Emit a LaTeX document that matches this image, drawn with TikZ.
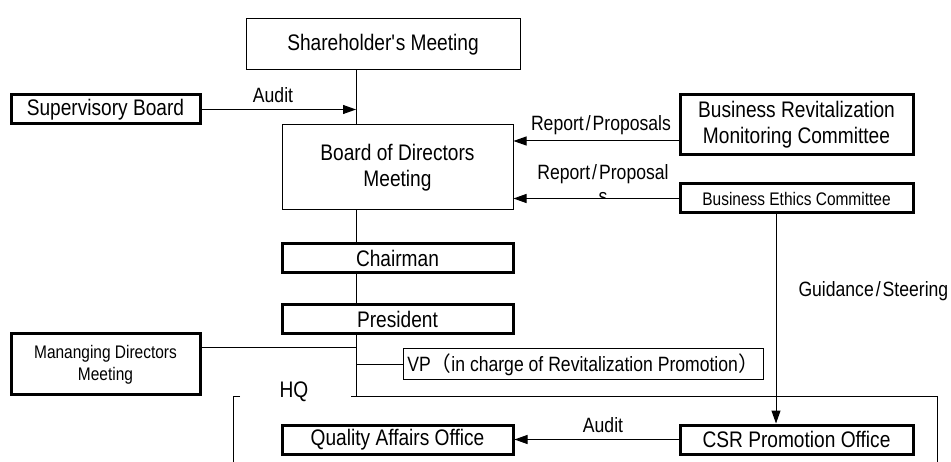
\documentclass[tikz,border=0pt]{standalone}
\usepackage{fontspec}
\setmainfont{Liberation Sans}[FakeStretch=0.85]
\newfontfamily\cjk{Noto Sans CJK JP}
\usetikzlibrary{arrows.meta}

\tikzset{
  thinbox/.style={draw, line width=1pt, inner sep=0pt, align=center,
    font=\fontsize{22.5}{26}\selectfont},
  thickbox/.style={thinbox, line width=3pt},
  smallbox/.style={thickbox, font=\fontsize{18.2}{22}\selectfont},
  lbl/.style={inner sep=0pt, anchor=base, font=\fontsize{20.7}{24}\selectfont},
  arr/.style={-{Triangle[length=13pt,width=9pt]}}
}

\begin{document}
\begin{tikzpicture}[x=1pt,y=-1pt,line width=1pt]
  \useasboundingbox (0,0) rectangle (951,462);
  \coordinate (t) at (356,0);
  \coordinate (g) at (776,0);
  \coordinate (hql) at (233,397);
  \coordinate (hqr) at (937,397);

  \node[thinbox, minimum width=274, minimum height=51] (share) at (383,44.5) {Shareholder\textquotesingle s Meeting};
  \node[thickbox, minimum width=189, minimum height=29] (supboard) at (105.5,109.5) {Supervisory Board};
  \node[thinbox, minimum width=231, minimum height=85] (board) at (397.5,167.5) {Board of Directors\\Meeting};
  \node[thickbox, minimum width=231, minimum height=29] (chairman) at (397.5,258.5) {Chairman};
  \node[thickbox, minimum width=231, minimum height=29] (president) at (397.5,319.5) {President};
  \node[smallbox, minimum width=189, minimum height=61] (mdmeeting) at (105.5,364.5) {Mananging Directors\\Meeting};
  \node[thinbox, minimum width=360, minimum height=31, font=\fontsize{20.7}{24}\selectfont] (vp) at (583,364.5)
    {VP{\cjk （}in charge of Revitalization Promotion{\cjk ）}};
  \node[thickbox, minimum width=231, minimum height=29] (qao) at (397.5,439.5) {Quality Affairs Office};
  \node[thickbox, minimum width=233, minimum height=29] (csr) at (796.5,439.5) {CSR Promotion Office};
  \node[thickbox, minimum width=233, minimum height=60] (brmc) at (796.5,125) {Business Revitalization\\Monitoring Committee};
  \node[smallbox, minimum width=233, minimum height=29] (bec) at (796.5,198.5) {Business Ethics Committee};

  % main line
  \draw (t |- share.south) -- (t |- board.north)
        (t |- board.south) -- (t |- chairman.north)
        (t |- chairman.south) -- (t |- president.north)
        (t |- president.south) -- (t |- hqr);
  \coordinate (mdjoin) at (356,348);
  \draw (mdjoin -| mdmeeting.east) -- (mdjoin);
  \draw (t |- vp.west) -- (vp.west);

  % HQ frame
  \draw ([xshift=7pt]hql) -- (hql) -- (hql |- 0,462);
  \draw (351,397) -- (hqr) -- (hqr |- 0,462);
  \node[lbl, font=\fontsize{22.5}{26}\selectfont] (hq) at (294,398) {HQ};

  \draw[arr] (supboard.east) -- (supboard.east -| t);
  \node[lbl] (audit1) at (273,103) {Audit};
  \coordinate (rpin) at (0,141);
  \draw[arr] (rpin -| brmc.west) -- (rpin -| board.east);
  \node[lbl] (rp1) at (601,131) {Report\kern2pt/\kern2pt Proposals};
  \draw[arr] (bec.west) -- (bec.west -| board.east);
  \node[lbl] (rp2) at (603,180) {Report\kern2pt/\kern2pt Proposal};
  \begin{scope}
    \clip (590,185) rectangle (616,198);
    \node[lbl] (rp2s) at (603,204) {s};
  \end{scope}
  \draw[arr] (g |- bec.south) -- (g |- csr.north);
  \node[lbl, anchor=base west] (guide) at (798,297) {Guidance\kern2pt/\kern2pt Steering};
  \draw[arr] (csr.west) -- (qao.east);
  \node[lbl] (audit2) at (603,432) {Audit};
\end{tikzpicture}
\end{document}
